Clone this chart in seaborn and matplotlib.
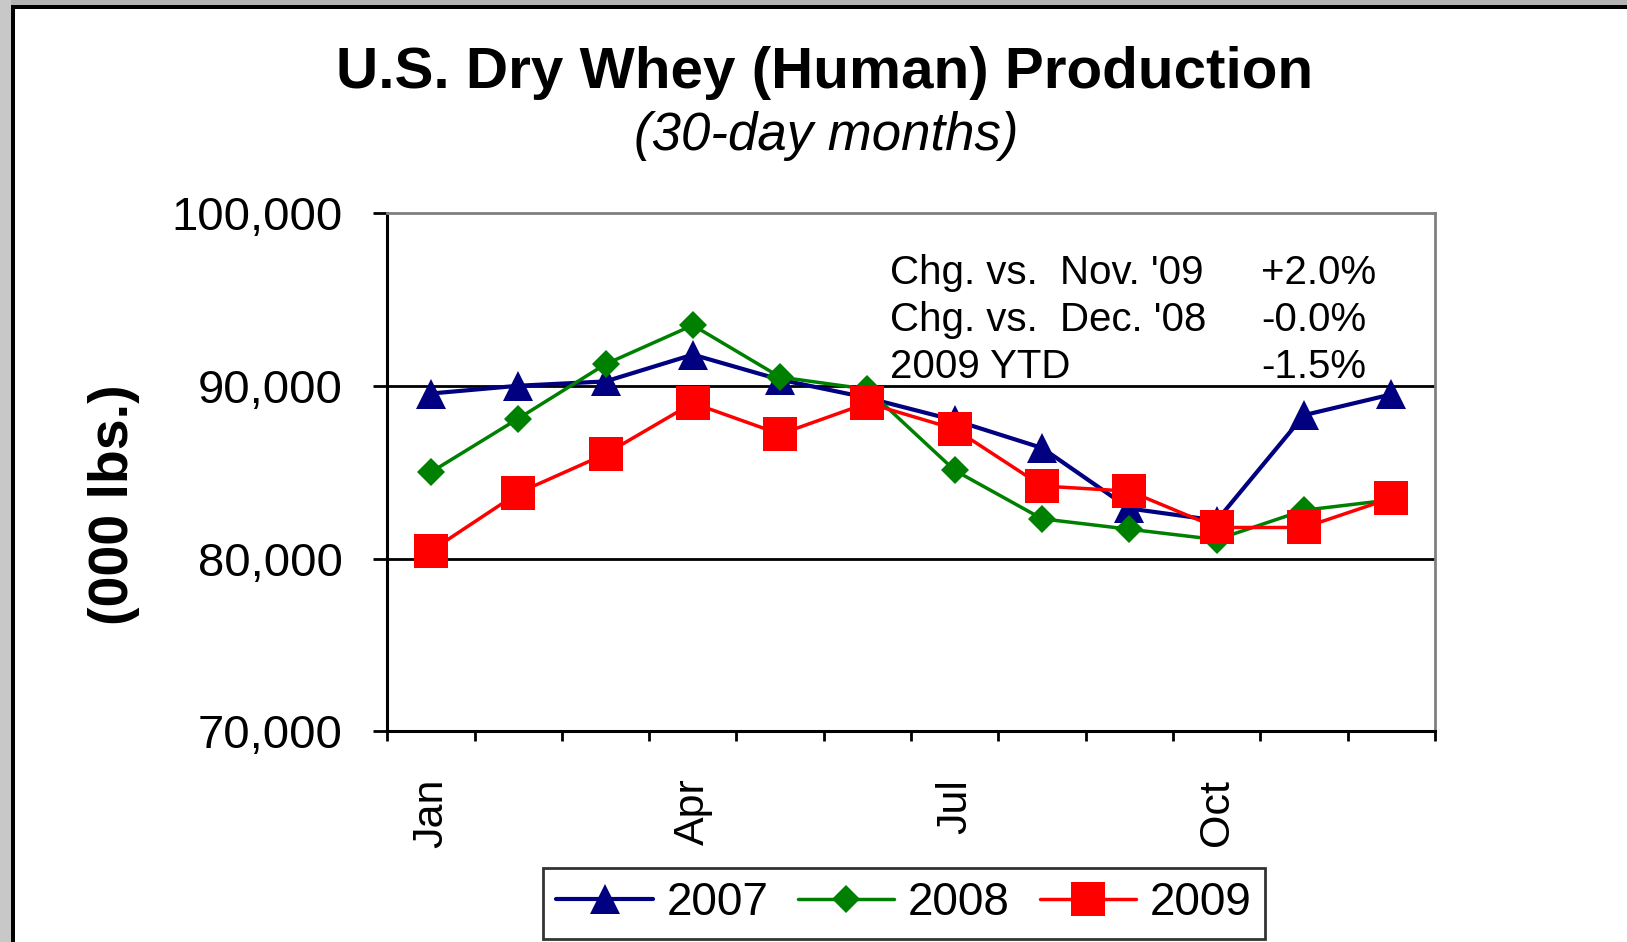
import numpy as np
import pandas as pd
import seaborn as sns
import matplotlib.pyplot as plt
from matplotlib.patches import Rectangle
from matplotlib.ticker import StrMethodFormatter

# monthly production, 000 lbs (30-day months)
months = ['Jan', 'Feb', 'Mar', 'Apr', 'May', 'Jun', 'Jul', 'Aug', 'Sep', 'Oct', 'Nov', 'Dec']
shown_months = ['Jan', 'Apr', 'Jul', 'Oct']
prod_2007 = [89550, 90000, 90250, 91800, 90350, 89300, 88000, 86400, 82900, 82200, 88300, 89500]
prod_2008 = [85000, 88100, 91250, 93500, 90500, 89800, 85100, 82300, 81700, 81100, 82800, 83400]
prod_2009 = [80450, 83800, 86050, 89000, 87200, 89000, 87500, 84200, 83900, 81800, 81800, 83500]
years = ['2007', '2008', '2009']
chg_labels = ["Chg. vs.  Nov. '09", "Chg. vs.  Dec. '08", "2009 YTD"]
chg_values = ['+2.0%', '-0.0%', '-1.5%']

df = pd.DataFrame({
    'pos': list(range(len(months))) * 3,
    'value': prod_2007 + prod_2008 + prod_2009,
    'year': [y for y in years for _ in months],
})

sns.set_style('white')
plt.rcParams['font.family'] = ['Liberation Sans', 'DejaVu Sans']
plt.rcParams['text.color'] = 'black'
plt.rcParams['xtick.color'] = 'black'
plt.rcParams['ytick.color'] = 'black'
plt.rcParams['axes.labelcolor'] = 'black'

fig = plt.figure(figsize=(16.27, 9.42), dpi=100)
ax = fig.add_axes([0.238, 0.2235, 0.644, 0.5505])

styles = {
    '2007': dict(color='#000080', marker='^', markersize=21, linewidth=3.0),
    '2008': dict(color='#008000', marker='D', markersize=14.5, linewidth=2.5),
    '2009': dict(color='#FF0000', marker='s', markersize=25, linewidth=2.5),
}
for y in years:
    st = styles[y]
    sns.lineplot(data=df[df['year'] == y], x='pos', y='value', ax=ax,
                 color=st['color'], marker=st['marker'], markersize=st['markersize'],
                 linewidth=st['linewidth'], markeredgewidth=0, label=y, zorder=3)

ax.set_ylim(70000, 100000)
ax.set_yticks([70000, 80000, 90000, 100000])
ax.yaxis.set_major_formatter(StrMethodFormatter('{x:,.0f}'))
ax.set_xlim(-0.5, len(months) - 0.5)
ax.set_xticks([months.index(m) for m in shown_months])
ax.set_xticklabels(shown_months, rotation=90)
ax.set_xticks(np.arange(-0.5, len(months), 1), minor=True)

ax.tick_params(axis='y', labelsize=34, length=10, width=2, pad=22, color='black', left=True)
ax.tick_params(axis='x', which='major', labelsize=31, length=0, pad=34, bottom=True)
ax.tick_params(axis='x', which='minor', length=7, width=2, color='black', bottom=True)

ax.grid(False)
for v in [80000, 90000]:
    ax.axhline(v, color='black', linewidth=2, zorder=1)

for side in ['left', 'bottom']:
    ax.spines[side].set_color('black')
    ax.spines[side].set_linewidth(2.2)
for side in ['top', 'right']:
    ax.spines[side].set_color('#808080')
    ax.spines[side].set_linewidth(2)

ax.set_xlabel('')
ax.set_ylabel('')

# change summary box
for i, (lab, val) in enumerate(zip(chg_labels, chg_values)):
    yy = 0.884 - i * 0.0905
    ax.text(0.48, yy, lab, transform=ax.transAxes, fontsize=29, va='center', ha='left')
    ax.text(0.834, yy, val, transform=ax.transAxes, fontsize=29, va='center', ha='left')

fig.text(0.507, 0.922, 'U.S. Dry Whey (Human) Production', ha='center', va='center',
         fontsize=42, fontweight='bold')
fig.text(0.508, 0.856, '(30-day months)', ha='center', va='center',
         fontsize=38, fontstyle='italic')
fig.text(0.070, 0.464, '(000 lbs.)', ha='center', va='center', rotation=90,
         fontsize=40, fontweight='bold')

leg = ax.legend(loc='center', bbox_to_anchor=(0.5556, 0.041), bbox_transform=fig.transFigure,
                ncol=3, frameon=True, fancybox=False, edgecolor='black', fontsize=33,
                handlelength=2.1, handletextpad=0.3, columnspacing=0.65, borderpad=0.3)
leg.get_frame().set_linewidth(2)

# window frame
W, H = 1627, 942
fig.add_artist(Rectangle((0, 1 - 5 / H), 1, 5 / H, transform=fig.transFigure,
                         facecolor='#b3b3b3', edgecolor='none'))
fig.add_artist(Rectangle((0, 0), 11 / W, 1, transform=fig.transFigure,
                         facecolor='#c8c8c8', edgecolor='none'))
fig.add_artist(Rectangle((11 / W, 1 - 9 / H), 1, 4 / H, transform=fig.transFigure,
                         facecolor='black', edgecolor='none'))
fig.add_artist(Rectangle((11 / W, 0), 4 / W, 1 - 5 / H, transform=fig.transFigure,
                         facecolor='black', edgecolor='none'))

fig.savefig('out.png', dpi=100)
